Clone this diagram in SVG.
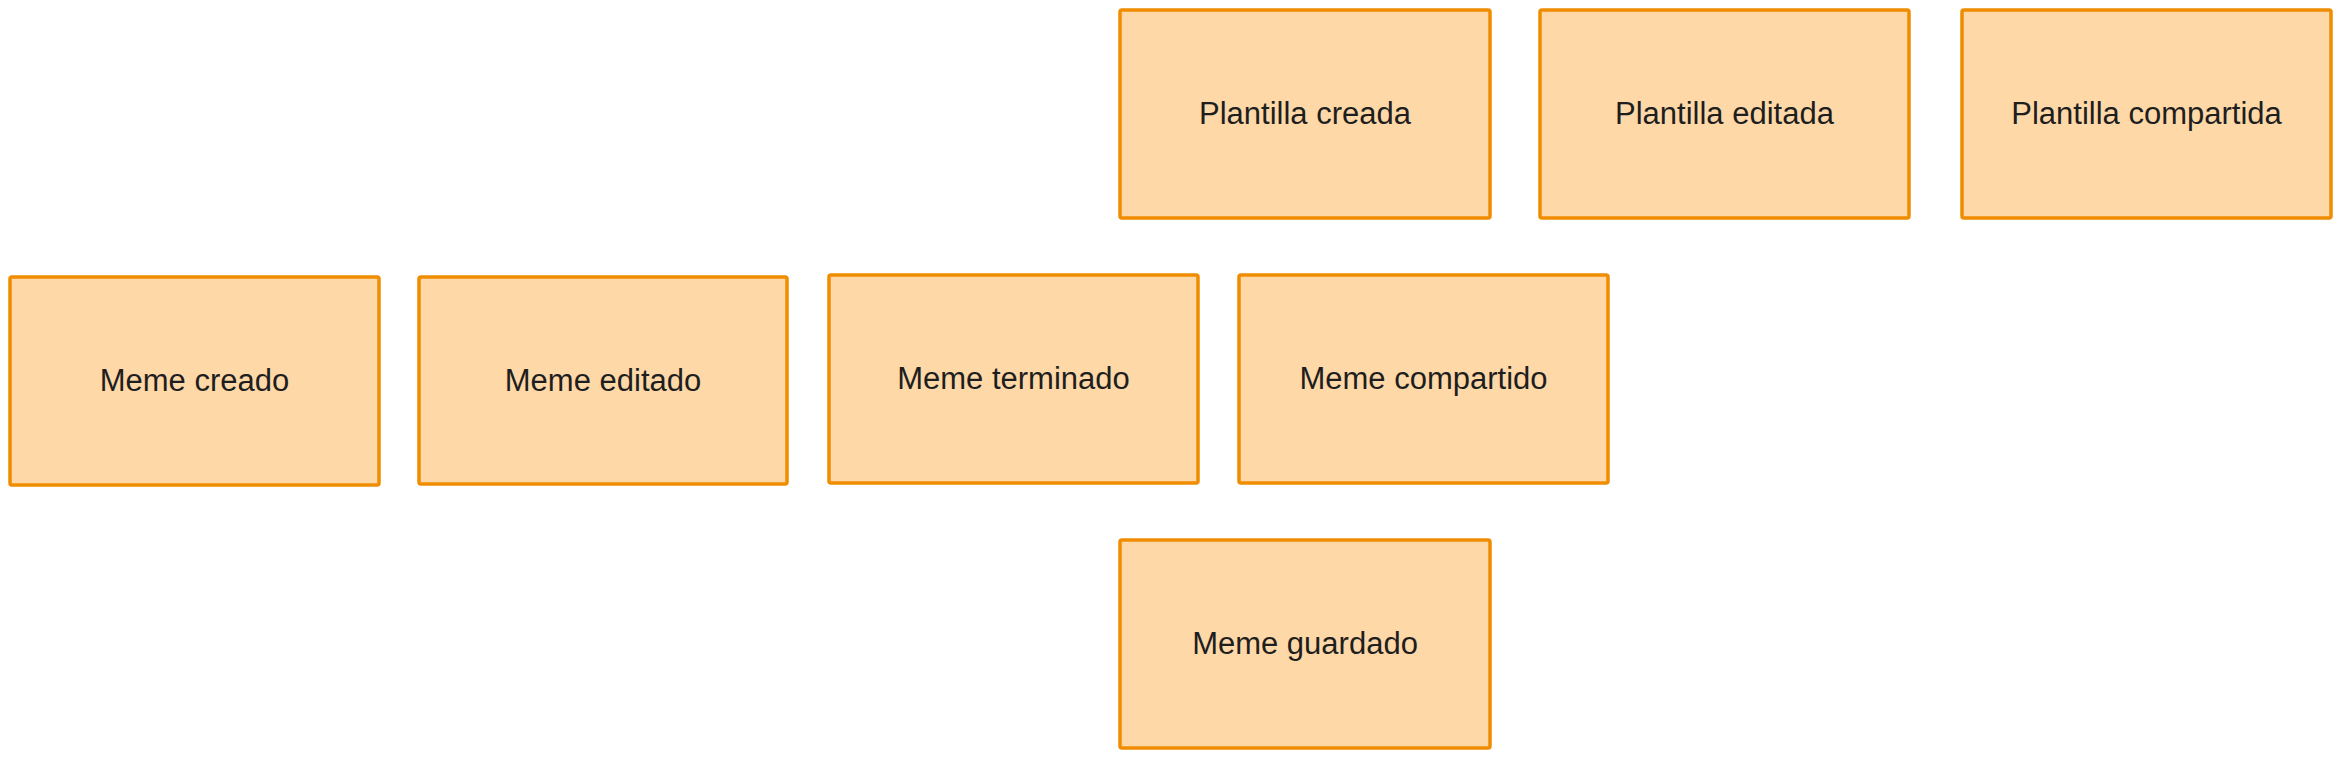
<svg xmlns="http://www.w3.org/2000/svg" width="2341" height="759" viewBox="0 0 2341 759">
<style>
.box{fill:#ffd8a8;stroke:#f08c00;stroke-width:3.5;}
.lbl{font-family:"Liberation Sans","DejaVu Sans",sans-serif;font-size:31px;fill:#1e1e1e;text-anchor:middle;dominant-baseline:central;}
</style>
<rect width="2341" height="759" fill="#ffffff"/>
<g id="connectors"></g>
<g id="plantilla-creada"><rect class="box" x="1120" y="10" width="370" height="208" rx="2"/><text class="lbl" x="1305" y="113">Plantilla creada</text></g>
<g id="plantilla-editada"><rect class="box" x="1540" y="10" width="369" height="208" rx="2"/><text class="lbl" x="1724.5" y="113">Plantilla editada</text></g>
<g id="plantilla-compartida"><rect class="box" x="1962" y="10" width="369" height="208" rx="2"/><text class="lbl" x="2146.5" y="113">Plantilla compartida</text></g>
<g id="meme-creado"><rect class="box" x="10" y="277" width="369" height="208" rx="2"/><text class="lbl" x="194.5" y="380">Meme creado</text></g>
<g id="meme-editado"><rect class="box" x="419" y="277" width="368" height="207" rx="2"/><text class="lbl" x="603" y="380">Meme editado</text></g>
<g id="meme-terminado"><rect class="box" x="829" y="275" width="369" height="208" rx="2"/><text class="lbl" x="1013.5" y="378">Meme terminado</text></g>
<g id="meme-compartido"><rect class="box" x="1239" y="275" width="369" height="208" rx="2"/><text class="lbl" x="1423.5" y="378">Meme compartido</text></g>
<g id="meme-guardado"><rect class="box" x="1120" y="540" width="370" height="208" rx="2"/><text class="lbl" x="1305" y="643">Meme guardado</text></g>
</svg>
